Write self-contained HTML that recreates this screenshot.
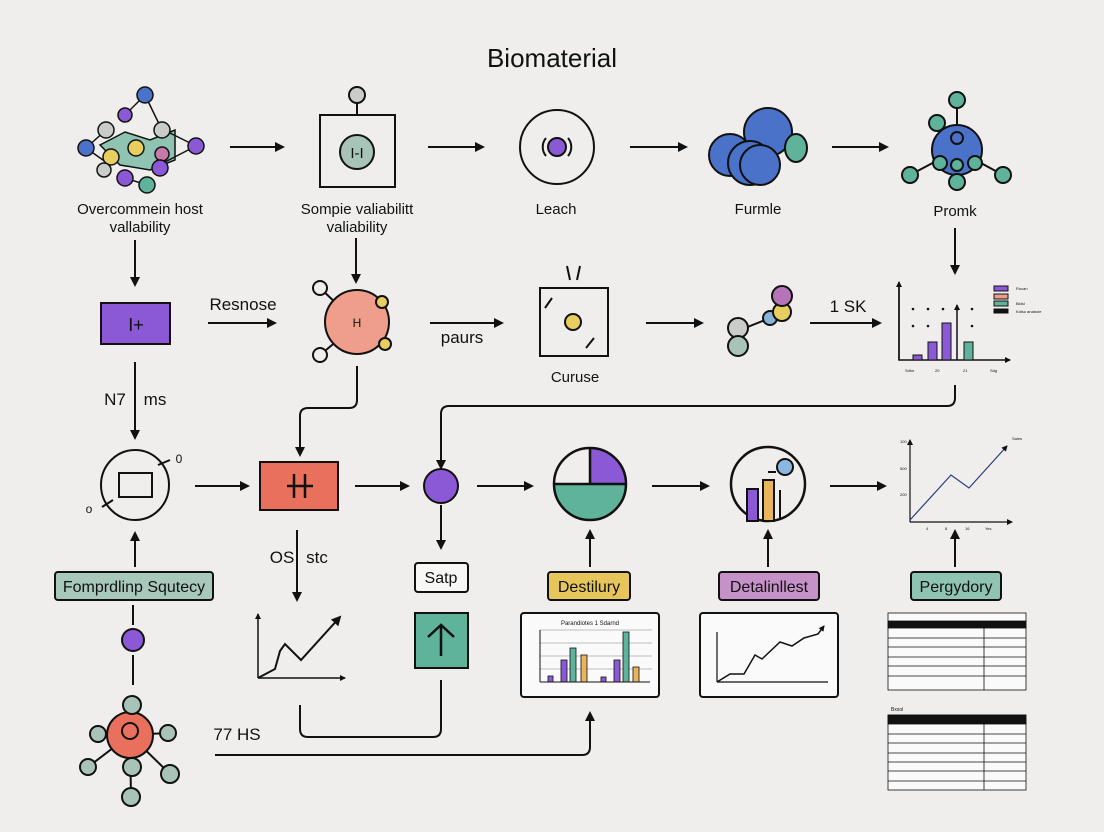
<!DOCTYPE html>
<html><head><meta charset="utf-8"><style>
html,body{margin:0;padding:0;background:#efeeec;}
svg{display:block;font-family:"Liberation Sans",sans-serif;}
</style></head><body>
<svg width="1104" height="832" viewBox="0 0 1104 832" xmlns="http://www.w3.org/2000/svg">
<defs>
<marker id="ah" markerWidth="10" markerHeight="10" refX="8" refY="5" orient="auto" markerUnits="userSpaceOnUse"><path d="M0,0 L10,5 L0,10 z" fill="#111"/></marker>
<marker id="sa" markerWidth="6" markerHeight="6" refX="5" refY="3" orient="auto" markerUnits="userSpaceOnUse"><path d="M0,0 L6,3 L0,6 z" fill="#111"/></marker>
</defs>
<rect width="1104" height="832" fill="#efeeec"/>
<text x="552" y="67" font-size="26" text-anchor="middle" fill="#111">Biomaterial</text>

<g stroke="#111" stroke-width="2" fill="none" marker-end="url(#ah)">
<line x1="230" y1="147" x2="283" y2="147"/>
<line x1="428" y1="147" x2="483" y2="147"/>
<line x1="630" y1="147" x2="686" y2="147"/>
<line x1="832" y1="147" x2="887" y2="147"/>
<line x1="135" y1="240" x2="135" y2="285"/>
<line x1="356" y1="238" x2="356" y2="282"/>
<line x1="955" y1="228" x2="955" y2="273"/>
<line x1="208" y1="323" x2="275" y2="323"/>
<line x1="430" y1="323" x2="502" y2="323"/>
<line x1="646" y1="323" x2="702" y2="323"/>
<line x1="810" y1="323" x2="880" y2="323"/>
<line x1="135" y1="362" x2="135" y2="438"/>
<line x1="195" y1="486" x2="248" y2="486"/>
<line x1="355" y1="486" x2="408" y2="486"/>
<line x1="477" y1="486" x2="532" y2="486"/>
<line x1="652" y1="486" x2="708" y2="486"/>
<line x1="830" y1="486" x2="885" y2="486"/>
<line x1="135" y1="567" x2="135" y2="533"/>
<line x1="590" y1="567" x2="590" y2="531"/>
<line x1="768" y1="567" x2="768" y2="531"/>
<line x1="955" y1="567" x2="955" y2="531"/>
<line x1="297" y1="530" x2="297" y2="600"/>
<line x1="441" y1="505" x2="441" y2="548"/>
<path d="M357,366 V400 Q357,408 349,408 H308 Q300,408 300,416 V455"/>
<path d="M955,385 V398 Q955,406 947,406 H449 Q441,406 441,414 V468"/>
<path d="M215,755 H582 Q590,755 590,747 V713"/>
</g>
<path d="M300,705 V729 Q300,737 308,737 H433 Q441,737 441,729 V680" stroke="#111" stroke-width="2" fill="none"/>

<!-- network icon top-left -->
<g stroke="#111" stroke-width="1.5">
<polygon points="100,145 125,132 150,140 175,130 175,160 150,170 120,165" fill="#8fc4b2"/>
<line x1="145" y1="95" x2="125" y2="115"/><line x1="145" y1="95" x2="162" y2="130"/>
<line x1="86" y1="148" x2="106" y2="130"/><line x1="86" y1="148" x2="110" y2="165"/>
<line x1="196" y1="146" x2="164" y2="130"/><line x1="196" y1="146" x2="163" y2="163"/>
<line x1="125" y1="178" x2="147" y2="185"/>
<circle cx="145" cy="95" r="8" fill="#4a72c8"/>
<circle cx="125" cy="115" r="7" fill="#8b59d6"/>
<circle cx="106" cy="130" r="8" fill="#c9ccc8"/>
<circle cx="162" cy="130" r="8" fill="#c9ccc8"/>
<circle cx="86" cy="148" r="8" fill="#4a72c8"/>
<circle cx="136" cy="148" r="8" fill="#e8cd5f"/>
<circle cx="111" cy="157" r="8" fill="#e8cd5f"/>
<circle cx="162" cy="154" r="7" fill="#c77aa8"/>
<circle cx="196" cy="146" r="8" fill="#8b59d6"/>
<circle cx="104" cy="170" r="7" fill="#c9ccc8"/>
<circle cx="160" cy="168" r="8" fill="#8b59d6"/>
<circle cx="125" cy="178" r="8" fill="#8b59d6"/>
<circle cx="147" cy="185" r="8" fill="#5fb39b"/>
</g>
<text x="140" y="214" font-size="15" text-anchor="middle" fill="#111">Overcommein host</text>
<text x="140" y="232" font-size="15" text-anchor="middle" fill="#111">vallability</text>

<!-- box icon -->
<line x1="357" y1="103" x2="357" y2="115" stroke="#111" stroke-width="2"/>
<circle cx="357" cy="95" r="8" fill="#c9ccc8" stroke="#111" stroke-width="2"/>
<rect x="320" y="115" width="75" height="72" fill="none" stroke="#111" stroke-width="2"/>
<circle cx="357" cy="152" r="17" fill="#a8c3b8" stroke="#111" stroke-width="2"/>
<text x="357" y="158" font-size="15" text-anchor="middle" fill="#111">I-I</text>
<text x="357" y="214" font-size="15" text-anchor="middle" fill="#111">Sompie valiabilitt</text>
<text x="357" y="232" font-size="15" text-anchor="middle" fill="#111">valiability</text>

<!-- Leach circle -->
<circle cx="557" cy="147" r="37" fill="none" stroke="#111" stroke-width="2"/>
<circle cx="557" cy="147" r="9" fill="#8b59d6" stroke="#111" stroke-width="2"/>
<path d="M546,138 A14,14 0 0 0 546,156 M568,138 A14,14 0 0 1 568,156" fill="none" stroke="#111" stroke-width="2"/>
<text x="556" y="214" font-size="15" text-anchor="middle" fill="#111">Leach</text>

<!-- cloud -->
<g stroke="#111" stroke-width="2" fill="#4a72c8">
<circle cx="768" cy="132" r="24"/><circle cx="730" cy="155" r="21"/><circle cx="750" cy="163" r="22"/><circle cx="760" cy="165" r="20"/>
<ellipse cx="796" cy="148" rx="11" ry="14" fill="#5fb39b"/>
</g>
<text x="758" y="214" font-size="15" text-anchor="middle" fill="#111">Furmle</text>

<!-- Promk -->
<g stroke="#111" stroke-width="2">
<line x1="957" y1="100" x2="957" y2="160"/><line x1="910" y1="175" x2="957" y2="150"/><line x1="1003" y1="175" x2="957" y2="150"/>
<circle cx="957" cy="150" r="25" fill="#4a72c8"/>
<circle cx="957" cy="100" r="8" fill="#5fb39b"/><circle cx="937" cy="123" r="8" fill="#5fb39b"/>
<circle cx="957" cy="138" r="6" fill="#4a72c8"/><circle cx="940" cy="163" r="7" fill="#5fb39b"/>
<circle cx="957" cy="165" r="6" fill="#5fb39b"/><circle cx="975" cy="163" r="7" fill="#5fb39b"/>
<circle cx="910" cy="175" r="8" fill="#5fb39b"/><circle cx="1003" cy="175" r="8" fill="#5fb39b"/>
<circle cx="957" cy="182" r="8" fill="#5fb39b"/>
</g>
<text x="955" y="216" font-size="15" text-anchor="middle" fill="#111">Promk</text>

<!-- row 2 -->
<rect x="101" y="303" width="69" height="41" fill="#8b59d6" stroke="#111" stroke-width="2"/>
<text x="136" y="331" font-size="18" text-anchor="middle" fill="#111">I+</text>
<text x="243" y="310" font-size="17" text-anchor="middle" fill="#111">Resnose</text>
<g stroke="#111" stroke-width="2">
<line x1="320" y1="288" x2="338" y2="305"/><line x1="320" y1="355" x2="338" y2="340"/>
<line x1="382" y1="302" x2="370" y2="310"/><line x1="385" y1="344" x2="373" y2="333"/>
<circle cx="357" cy="322" r="32" fill="#ee9e8a"/>
<circle cx="320" cy="288" r="7" fill="#efeeec"/><circle cx="320" cy="355" r="7" fill="#efeeec"/>
<circle cx="382" cy="302" r="6" fill="#e8cd5f"/><circle cx="385" cy="344" r="6" fill="#e8cd5f"/>
</g>
<text x="357" y="327" font-size="12" text-anchor="middle" fill="#111">H</text>
<text x="462" y="343" font-size="17" text-anchor="middle" fill="#111">paurs</text>
<rect x="540" y="288" width="68" height="68" fill="none" stroke="#111" stroke-width="2"/>
<path d="M567,266 L570,280 M580,266 L577,280 M545,308 L552,298 M586,348 L594,338" stroke="#111" stroke-width="2"/>
<circle cx="573" cy="322" r="8" fill="#e8cd5f" stroke="#111" stroke-width="2"/>
<text x="575" y="382" font-size="15" text-anchor="middle" fill="#111">Curuse</text>
<g stroke="#111" stroke-width="2">
<line x1="740" y1="330" x2="770" y2="318"/>
<circle cx="738" cy="328" r="10" fill="#c9ccc8"/><circle cx="738" cy="346" r="10" fill="#a8c3b8"/>
<circle cx="770" cy="318" r="7" fill="#8ab3d8"/><circle cx="782" cy="312" r="9" fill="#e8cd5f"/><circle cx="782" cy="296" r="10" fill="#b573b8"/>
</g>
<text x="848" y="312" font-size="17" text-anchor="middle" fill="#111">1 SK</text>
<!-- chart top right -->
<g stroke="#111" stroke-width="1.5" fill="none">
<path d="M899,283 V360 H1010" marker-end="url(#sa)"/><line x1="899" y1="360" x2="899" y2="282" marker-end="url(#sa)"/>
<line x1="957" y1="360" x2="957" y2="305" marker-end="url(#sa)"/>
</g>
<g fill="#111"><circle cx="913" cy="309" r="1.3"/><circle cx="928" cy="309" r="1.3"/><circle cx="943" cy="309" r="1.3"/><circle cx="958" cy="309" r="1.3"/><circle cx="972" cy="309" r="1.3"/><circle cx="913" cy="326" r="1.3"/><circle cx="928" cy="326" r="1.3"/><circle cx="943" cy="326" r="1.3"/><circle cx="972" cy="326" r="1.3"/></g>
<g stroke="#111" stroke-width="1">
<rect x="913" y="355" width="9" height="5" fill="#8b59d6"/><rect x="928" y="342" width="9" height="18" fill="#8b59d6"/><rect x="942" y="323" width="9" height="37" fill="#8b59d6"/><rect x="964" y="342" width="9" height="18" fill="#5fb39b"/>
<rect x="994" y="286" width="14" height="5" fill="#8b59d6"/><rect x="994" y="294" width="14" height="5" fill="#e8a08a"/><rect x="994" y="301" width="14" height="5" fill="#5fb39b"/><rect x="994" y="309" width="14" height="4" fill="#111"/>
</g>
<g font-size="4" fill="#111"><text x="1016" y="290">Rocan</text><text x="1016" y="305">Bidsl</text><text x="1016" y="313">Kdiso anabole</text>
<text x="905" y="372">Sdhe</text><text x="935" y="372">20</text><text x="963" y="372">21</text><text x="990" y="372">Sdg</text></g>
<text x="115" y="405" font-size="17" text-anchor="middle" fill="#111">N7</text>
<text x="155" y="405" font-size="17" text-anchor="middle" fill="#111">ms</text>

<!-- row 3 -->
<ellipse cx="135" cy="485" rx="34" ry="35" fill="none" stroke="#111" stroke-width="2"/>
<rect x="119" y="473" width="33" height="24" fill="none" stroke="#111" stroke-width="2"/>
<path d="M102,507 L113,500 M158,465 L170,460" stroke="#111" stroke-width="2"/>
<text x="89" y="513" font-size="12" text-anchor="middle" fill="#111">o</text>
<text x="179" y="463" font-size="12" text-anchor="middle" fill="#111">0</text>
<rect x="260" y="462" width="78" height="48" fill="#e9705c" stroke="#111" stroke-width="2"/>
<path d="M287,486 H313 M294,474 V498 M305,474 V498" stroke="#111" stroke-width="2.5"/>
<circle cx="441" cy="486" r="17" fill="#8b59d6" stroke="#111" stroke-width="2"/>
<circle cx="590" cy="484" r="36" fill="#5fb39b" stroke="#111" stroke-width="2"/>
<path d="M554,484 A36,36 0 0 1 626,484 Z" fill="#efeeec"/>
<path d="M590,484 V448 A36,36 0 0 1 626,484 Z" fill="#8b59d6"/>
<circle cx="590" cy="484" r="36" fill="none" stroke="#111" stroke-width="2.5"/>
<path d="M554,484 H626 M590,484 V448" stroke="#111" stroke-width="2.5"/>
<circle cx="768" cy="484" r="37" fill="none" stroke="#111" stroke-width="2.5"/>
<rect x="747" y="489" width="11" height="32" fill="#8b59d6" stroke="#111" stroke-width="2"/>
<rect x="763" y="480" width="11" height="41" fill="#e8b45c" stroke="#111" stroke-width="2"/>
<line x1="780" y1="490" x2="780" y2="520" stroke="#111" stroke-width="2"/>
<line x1="768" y1="472" x2="776" y2="472" stroke="#111" stroke-width="2"/>
<circle cx="785" cy="467" r="8" fill="#8ab8e0" stroke="#111" stroke-width="2"/>
<!-- line chart right -->
<g stroke="#111" stroke-width="1.2" fill="none">
<path d="M910,522 V440" marker-end="url(#sa)"/><path d="M910,522 H1012" marker-end="url(#sa)"/>
</g>
<path d="M910,520 L951,475 L969,488 L1007,446" stroke="#2a3a80" stroke-width="1.2" fill="none" marker-end="url(#sa)"/>
<g font-size="4" fill="#111"><text x="900" y="443">100</text><text x="900" y="470">500</text><text x="900" y="496">200</text><text x="926" y="530">4</text><text x="945" y="530">8</text><text x="965" y="530">16</text><text x="985" y="530">Yes</text><text x="1012" y="440">Sales</text></g>

<!-- labels row 4 -->
<rect x="55" y="572" width="158" height="28" rx="3" fill="#a9c8bc" stroke="#111" stroke-width="2"/>
<text x="134" y="592" font-size="16" text-anchor="middle" fill="#111">Fomprdlinp Squtecy</text>
<rect x="548" y="572" width="82" height="28" rx="3" fill="#e6c65b" stroke="#111" stroke-width="2"/>
<text x="589" y="592" font-size="16" text-anchor="middle" fill="#111">Destilury</text>
<rect x="719" y="572" width="100" height="28" rx="3" fill="#c690c8" stroke="#111" stroke-width="2"/>
<text x="769" y="592" font-size="16" text-anchor="middle" fill="#111">Detalinllest</text>
<rect x="911" y="572" width="90" height="28" rx="3" fill="#8fc4b2" stroke="#111" stroke-width="2"/>
<text x="956" y="592" font-size="16" text-anchor="middle" fill="#111">Pergydory</text>
<text x="282" y="563" font-size="17" text-anchor="middle" fill="#111">OS</text>
<text x="317" y="563" font-size="17" text-anchor="middle" fill="#111">stc</text>
<rect x="415" y="563" width="53" height="29" rx="3" fill="#f7f7f5" stroke="#111" stroke-width="2"/>
<text x="441" y="583" font-size="16" text-anchor="middle" fill="#111">Satp</text>

<!-- small line chart -->
<g stroke="#111" stroke-width="1.5" fill="none">
<path d="M258,678 V614" marker-end="url(#sa)"/><path d="M258,678 H345" marker-end="url(#sa)"/>
<path d="M258,678 L275,669 L280,651 L285,644 L301,660 L340,617" stroke-width="2" marker-end="url(#ah)"/>
</g>
<rect x="415" y="613" width="53" height="55" fill="#5fb39b" stroke="#111" stroke-width="2"/>
<path d="M441,656 V625 M428,637 L441,625 L454,637" stroke="#111" stroke-width="2.5" fill="none"/>

<!-- bar chart box -->
<rect x="521" y="613" width="138" height="84" rx="3" fill="#fafafa" stroke="#111" stroke-width="2"/>
<text x="590" y="625" font-size="6" text-anchor="middle" fill="#111">Parandiotes 1 Sdarnd</text>
<g stroke="#aaa" stroke-width="0.7"><line x1="540" y1="630" x2="652" y2="630"/><line x1="540" y1="643" x2="652" y2="643"/><line x1="540" y1="656" x2="652" y2="656"/><line x1="540" y1="669" x2="652" y2="669"/></g>
<g stroke="#111" stroke-width="0.8">
<rect x="548" y="676" width="5" height="6" fill="#8b59d6"/><rect x="561" y="660" width="6" height="22" fill="#8b59d6"/><rect x="570" y="648" width="6" height="34" fill="#5fb39b"/><rect x="581" y="655" width="6" height="27" fill="#e8b45c"/><rect x="601" y="677" width="5" height="5" fill="#8b59d6"/><rect x="614" y="660" width="6" height="22" fill="#8b59d6"/><rect x="623" y="632" width="6" height="50" fill="#5fb39b"/><rect x="633" y="667" width="6" height="15" fill="#e8b45c"/>
</g>
<path d="M540,682 H650 M540,630 V682" stroke="#111" stroke-width="1"/>

<!-- line chart box -->
<rect x="700" y="613" width="138" height="84" rx="3" fill="#fafafa" stroke="#111" stroke-width="2"/>
<path d="M717,682 V632 M717,682 H828" stroke="#111" stroke-width="1.2" fill="none"/>
<path d="M717,682 L730,674 L744,674 L755,655 L762,659 L780,642 L792,646 L804,638 L818,634 L824,626" stroke="#111" stroke-width="1.5" fill="none" marker-end="url(#sa)"/>

<!-- tables -->
<g stroke="#111" stroke-width="0.8" fill="none">
<rect x="888" y="613" width="138" height="77" fill="#fafafa"/>
<rect x="888" y="621" width="138" height="7" fill="#111"/>
<line x1="888" y1="638" x2="1026" y2="638"/><line x1="888" y1="647" x2="1026" y2="647"/><line x1="888" y1="657" x2="1026" y2="657"/><line x1="888" y1="666" x2="1026" y2="666"/><line x1="888" y1="676" x2="1026" y2="676"/>
<line x1="984" y1="628" x2="984" y2="690"/>
<rect x="888" y="715" width="138" height="75" fill="#fafafa"/>
<rect x="888" y="715" width="138" height="9" fill="#111"/>
<line x1="888" y1="734" x2="1026" y2="734"/><line x1="888" y1="743" x2="1026" y2="743"/><line x1="888" y1="753" x2="1026" y2="753"/><line x1="888" y1="762" x2="1026" y2="762"/><line x1="888" y1="771" x2="1026" y2="771"/><line x1="888" y1="781" x2="1026" y2="781"/>
<line x1="984" y1="724" x2="984" y2="790"/>
</g>
<text x="891" y="711" font-size="5" fill="#111">Bxsol</text>

<!-- bottom-left molecule -->
<line x1="133" y1="605" x2="133" y2="625" stroke="#111" stroke-width="2"/>
<line x1="133" y1="655" x2="133" y2="685" stroke="#111" stroke-width="2"/>
<circle cx="133" cy="640" r="11" fill="#8b59d6" stroke="#111" stroke-width="2"/>
<g stroke="#111" stroke-width="2">
<line x1="130" y1="735" x2="132" y2="705"/><line x1="130" y1="735" x2="98" y2="734"/><line x1="130" y1="735" x2="168" y2="733"/>
<line x1="130" y1="735" x2="88" y2="767"/><line x1="130" y1="735" x2="170" y2="774"/><line x1="130" y1="735" x2="131" y2="797"/>
<circle cx="130" cy="735" r="23" fill="#e9705c"/>
<circle cx="130" cy="731" r="8" fill="none"/>
<circle cx="132" cy="705" r="9" fill="#a8c3b8"/><circle cx="98" cy="734" r="8" fill="#a8c3b8"/><circle cx="168" cy="733" r="8" fill="#a8c3b8"/>
<circle cx="88" cy="767" r="8" fill="#a8c3b8"/><circle cx="170" cy="774" r="9" fill="#a8c3b8"/><circle cx="132" cy="767" r="9" fill="#a8c3b8"/><circle cx="131" cy="797" r="9" fill="#a8c3b8"/>
</g>
<text x="237" y="740" font-size="17" text-anchor="middle" fill="#111">77 HS</text>
</svg>
</body></html>
